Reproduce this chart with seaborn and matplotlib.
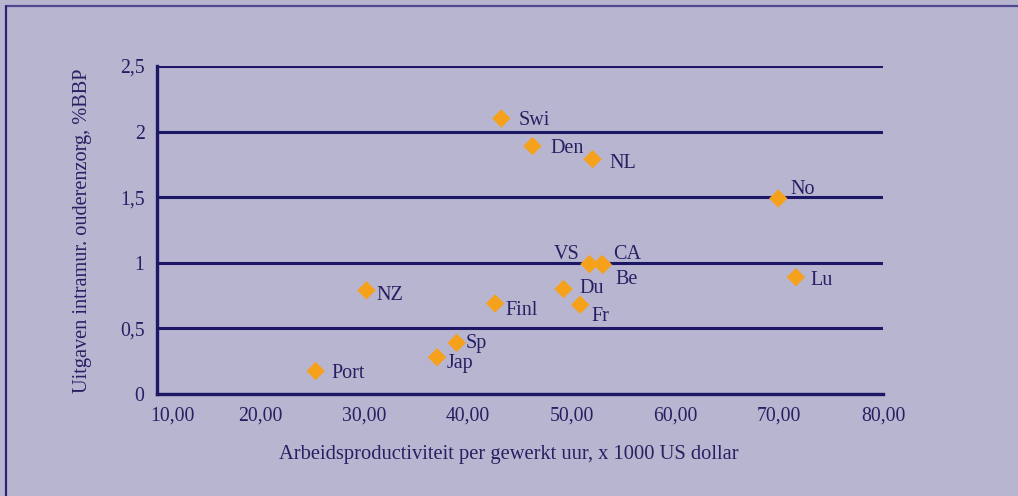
import matplotlib
matplotlib.use("Agg")
import matplotlib.pyplot as plt
import matplotlib.transforms as mtransforms
from matplotlib.lines import Line2D
import seaborn as sns
import pandas as pd

countries = ["Port", "NZ", "Jap", "Sp", "Finl", "Swi", "Den", "Du", "Fr", "NL", "VS", "CA", "Be", "No", "Lu"]
productivity = [25.3, 30.2, 37.0, 38.9, 42.6, 43.2, 46.2, 49.2, 50.8, 52.0, 51.7, 52.9, 53.0, 69.9, 71.6]
spending = [0.175, 0.79, 0.28, 0.39, 0.69, 2.10, 1.89, 0.80, 0.68, 1.79, 0.99, 0.99, 0.985, 1.49, 0.89]
# label offsets in pixels (dx, dy)
label_offsets = {
    "Port": (16, 0), "NZ": (10, -3), "Jap": (10, -4), "Sp": (9, 1), "Finl": (10, -5),
    "Swi": (17, 0), "Den": (18, 0), "Du": (16, 3), "Fr": (11, -10), "NL": (17, -2),
    "VS": (-10, 12), "CA": (11, 12), "Be": (12, -13), "No": (12, 11), "Lu": (15, -1),
}
x_ticks = [10, 20, 30, 40, 50, 60, 70, 80]
x_tick_labels = ["10,00", "20,00", "30,00", "40,00", "50,00", "60,00", "70,00", "80,00"]
y_ticks = [0, 0.5, 1, 1.5, 2, 2.5]
y_tick_labels = ["0", "0,5", "1", "1,5", "2", "2,5"]

df = pd.DataFrame({"land": countries, "x": productivity, "y": spending})

BG = "#b8b5d1"
NAVY = "#1c1866"
TXT = "#262062"
ORANGE = "#f6a11c"

sns.set_theme(style="white")
plt.rcParams["font.family"] = ["Liberation Serif", "DejaVu Serif"]

fig = plt.figure(figsize=(10.18, 4.96), dpi=100, facecolor=BG)
ax = fig.add_axes([157 / 1018, 1 - 394 / 496, 726 / 1018, 328 / 496])
ax.set_facecolor(BG)

sns.scatterplot(data=df, x="x", y="y", marker="D", s=88, color=ORANGE,
                edgecolor="none", linewidth=0, ax=ax, zorder=5, clip_on=False)

for name, xv, yv in zip(countries, productivity, spending):
    dx, dy = label_offsets[name]
    dy -= 2
    ha = "right" if dx < 0 else "left"
    ax.annotate(name, (xv, yv), xytext=(dx * 0.72, dy * 0.72), textcoords="offset points",
                ha=ha, va="center", fontsize=14.5, color=TXT, zorder=6)

ax.set_xlim(10, 80)
ax.set_ylim(0, 2.5)
ax.set_xticks(x_ticks)
ax.set_xticklabels(x_tick_labels)
ax.set_yticks(y_ticks)
ax.set_yticklabels(y_tick_labels)
ax.tick_params(axis="both", length=0, labelsize=14.2, labelcolor=TXT)
ax.tick_params(axis="x", pad=9)
ax.tick_params(axis="y", pad=9)

first = ax.get_xticklabels()[0]
first.set_transform(first.get_transform() + mtransforms.ScaledTranslation(15 / 100, 0, fig.dpi_scale_trans))

ax.yaxis.grid(True, color=NAVY, linewidth=2.2)
ax.xaxis.grid(False)
ax.set_axisbelow(True)
for side in ["top", "right"]:
    ax.spines[side].set_visible(False)
for side in ["left", "bottom"]:
    ax.spines[side].set_color(NAVY)
    ax.spines[side].set_linewidth(2.4)

ax.set_xlabel("Arbeidsproductiviteit per gewerkt uur, x 1000 US dollar", fontsize=14.8, color=TXT)
ax.set_ylabel("Uitgaven intramur. ouderenzorg, %BBP", fontsize=14.6, color=TXT)
ax.xaxis.set_label_coords((509 - 157) / 726, -(455 - 394) / 328)
ax.yaxis.set_label_coords(-(157 - 83) / 726, (394 - 231) / 328)
ax.xaxis.label.set_va("center")
ax.yaxis.label.set_va("center")

# figure frame (top and left)
fig.add_artist(Line2D([6 / 1018, 1], [1 - 5.5 / 496, 1 - 5.5 / 496], color="#4d4891", linewidth=1.6, transform=fig.transFigure))
fig.add_artist(Line2D([6 / 1018, 6 / 1018], [0, 1 - 5.5 / 496], color="#2a2575", linewidth=1.6, transform=fig.transFigure))

fig.savefig("out.png", dpi=100, facecolor=BG)
